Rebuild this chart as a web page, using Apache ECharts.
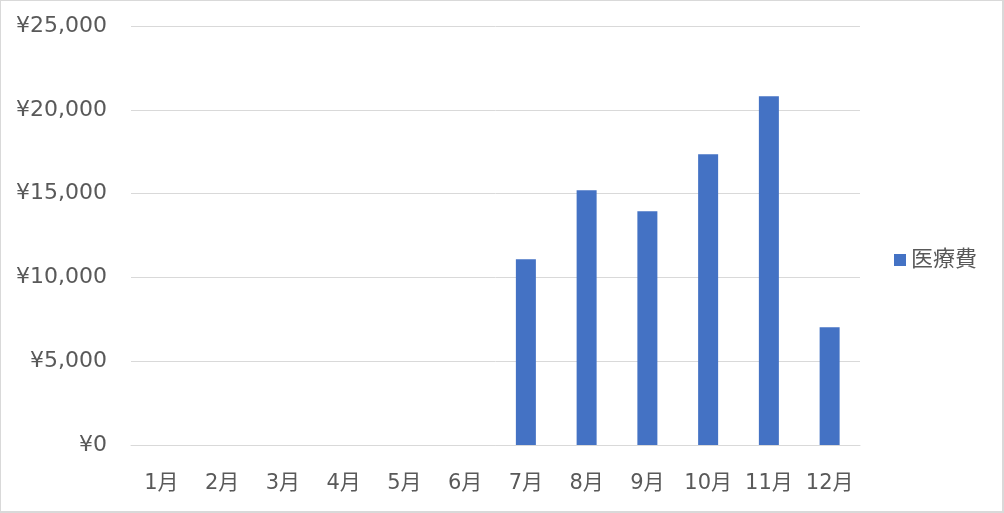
<!DOCTYPE html>
<html>
<head>
<meta charset="utf-8">
<script src="https://cdn.jsdelivr.net/npm/echarts@6/dist/echarts.min.js"></script>
<style>
html,body{margin:0;padding:0;background:#fff;}
#frame{position:absolute;left:0;top:0;width:1001px;height:510px;border-style:solid;border-color:#d9d9d9;border-width:1px 2px 2px 1px;}
#chart{position:absolute;left:0;top:0;width:1004px;height:513px;}
</style>
</head>
<body>
<div id="frame"></div>
<div id="chart"></div>
<script>
const categories = ['1月','2月','3月','4月','5月','6月','7月','8月','9月','10月','11月','12月'];
const seriesName = '医療費';
const values = [0, 0, 0, 0, 0, 0, 11080, 15200, 13950, 17350, 20810, 7020];
const yTicks = [0, 5000, 10000, 15000, 20000, 25000];

const FONT = '"DejaVu Sans", "Noto Sans CJK JP", sans-serif';
const chart = echarts.init(document.getElementById('chart'), null, {renderer: 'canvas'});
chart.setOption({
  animation: false,
  backgroundColor: 'transparent',
  grid: {left: 131, right: 144, top: 26, bottom: 68},
  legend: {
    data: [seriesName],
    orient: 'vertical',
    left: 889, top: 244,
    itemWidth: 12, itemHeight: 12, itemGap: 8,
    icon: 'rect',
    textStyle: {color: '#595959', fontSize: 22, fontFamily: FONT}
  },
  xAxis: {
    type: 'category',
    data: categories,
    axisLine: {lineStyle: {color: '#d9d9d9', width: 1}},
    axisTick: {show: false},
    axisLabel: {color: '#595959', fontSize: 21, fontFamily: FONT, margin: 28, interval: 0}
  },
  yAxis: {
    type: 'value',
    min: yTicks[0], max: yTicks[yTicks.length-1], interval: yTicks[1]-yTicks[0],
    axisLine: {show: false},
    axisTick: {show: false},
    splitLine: {lineStyle: {color: '#d9d9d9', width: 1}},
    axisLabel: {
      color: '#595959', fontSize: 22, fontFamily: FONT, margin: 24,
      padding: [4, 0, 0, 0],
      formatter: v => '¥' + v.toLocaleString('en-US')
    }
  },
  series: [{
    name: seriesName,
    type: 'bar',
    data: values,
    barWidth: 20,
    itemStyle: {color: '#4472C4'}
  }]
});
</script>
</body>
</html>
